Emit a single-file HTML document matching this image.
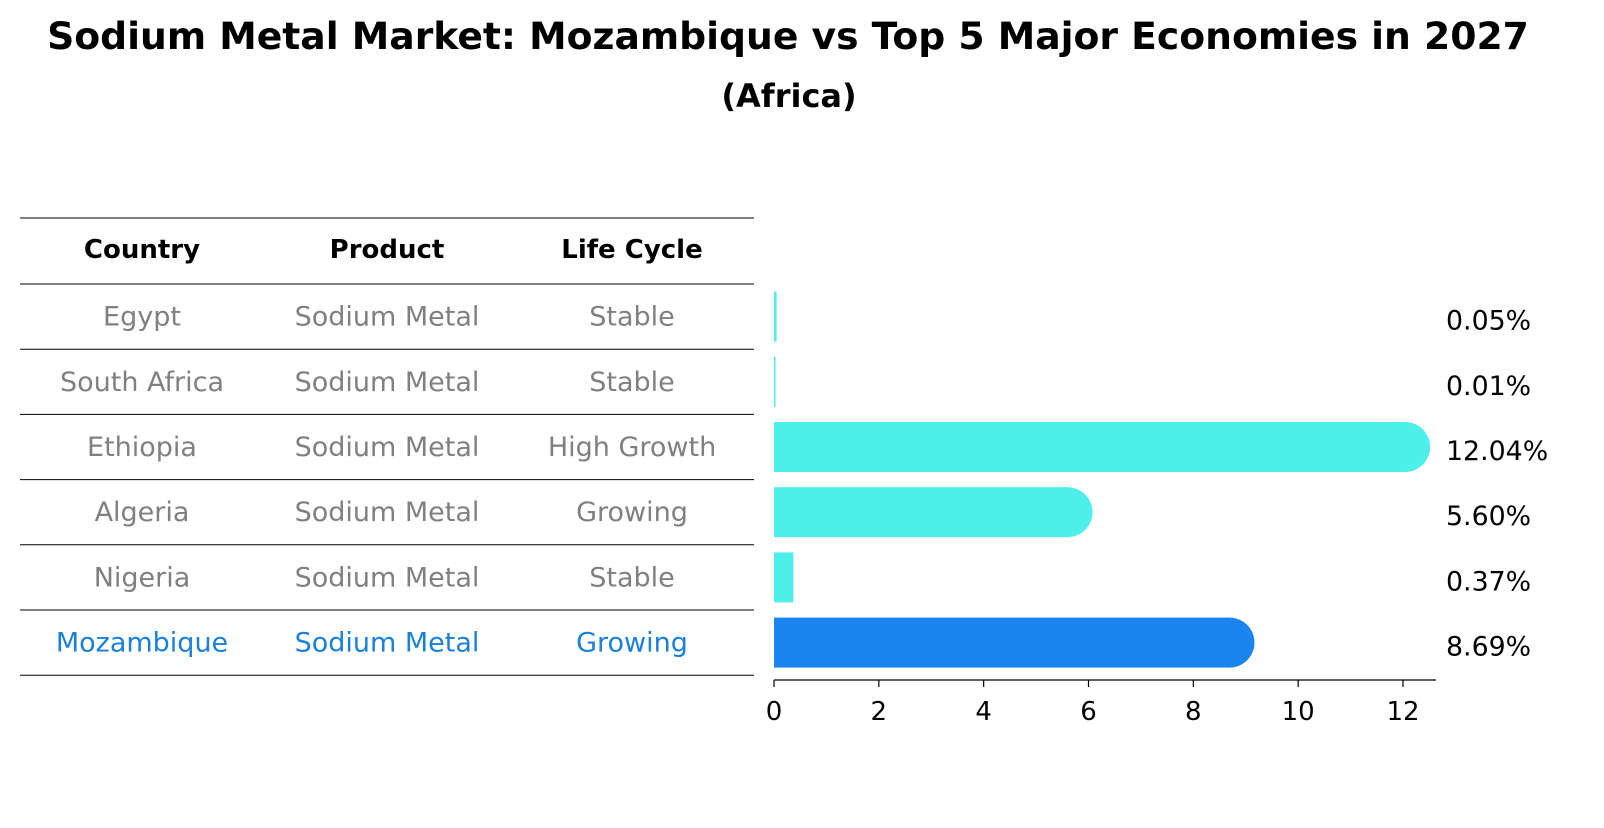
<!DOCTYPE html>
<html><head><meta charset="utf-8"><style>
body{margin:0;background:#fff;font-family:"Liberation Sans","DejaVu Sans",sans-serif;}
</style></head><body>
<svg width="1604" height="823" xmlns="http://www.w3.org/2000/svg" font-family="'DejaVu Sans','Liberation Sans',sans-serif">
<text x="788" y="49" text-anchor="middle" font-size="37.7" font-weight="bold">Sodium Metal Market: Mozambique vs Top 5 Major Economies in 2027</text>
<text x="789" y="107" text-anchor="middle" font-size="32" font-weight="bold">(Africa)</text>
<g id="table"></g>
<g id="bars"></g>
</svg>
<script>
const countries=["Egypt","South Africa","Ethiopia","Algeria","Nigeria","Mozambique"];
const products=["Sodium Metal","Sodium Metal","Sodium Metal","Sodium Metal","Sodium Metal","Sodium Metal"];
const lifecycles=["Stable","Stable","High Growth","Growing","Stable","Growing"];
const values=[0.05,0.01,12.04,5.60,0.37,8.69];
const ticks=[0,2,4,6,8,10,12];
const NS="http://www.w3.org/2000/svg";
function mk(tag,attrs,parent){const e=document.createElementNS(NS,tag);for(const k in attrs)e.setAttribute(k,attrs[k]);parent.appendChild(e);return e;}
const T=document.getElementById('table'),B=document.getElementById('bars');
const x0=774,scale=(1403-774)/12;
function xs(v){return x0+v*scale;}
const rowTop=284,rowH=65.2;
function yc(i){return rowTop+rowH*(i+0.5);}
for(let i=0;i<=7;i++){
  const y=i===0?218:rowTop+rowH*(i-1);
  const l=mk('line',{x1:20,x2:754,y1:y,y2:y,stroke:'#000','stroke-width':1},T);
  
  
}
const cols=[142,387,632];
["Country","Product","Life Cycle"].forEach((h,j)=>{
  const t=mk('text',{x:cols[j],y:258,'text-anchor':'middle','font-size':26,'font-weight':'bold'},T);
  t.textContent=h;
  
  
});
countries.forEach((c,i)=>{
  const col=i===5?'#1a80d9':'#808080';
  [c,products[i],lifecycles[i]].forEach((s,j)=>{
    const t=mk('text',{x:cols[j],y:yc(i)+9,'text-anchor':'middle','font-size':27,fill:col},T);
    t.textContent=s;
    
    
  });
});
const bh=50;
values.forEach((v,i)=>{
  const col=i===5?'#1a85f0':'#4eeeea';
  const y=yc(i)-bh/2;
  const w=Math.max(xs(v)-x0,1.5);
  const r=mk('rect',{x:x0,y:y,width:w,height:bh,fill:col},B);
  
  
  if(v>1){
    const c=mk('circle',{cx:xs(v),cy:y+bh/2,r:bh/2,fill:col},B);
    
    
  }
  const t=mk('text',{x:1446,y:yc(i)+13,'font-size':26.8},B);
  t.textContent=v.toFixed(2)+'%';
  
  
});
const ax=mk('line',{x1:x0,x2:1436,y1:680,y2:680,stroke:'#000','stroke-width':1.2},B);


ticks.forEach(tk=>{
  const l=mk('line',{x1:xs(tk),x2:xs(tk),y1:680,y2:687,stroke:'#000','stroke-width':1.2},B);
  
  
  const t=mk('text',{x:xs(tk),y:720,'text-anchor':'middle','font-size':26},B);
  t.textContent=tk;
  
  
});
</script>
</body></html>
